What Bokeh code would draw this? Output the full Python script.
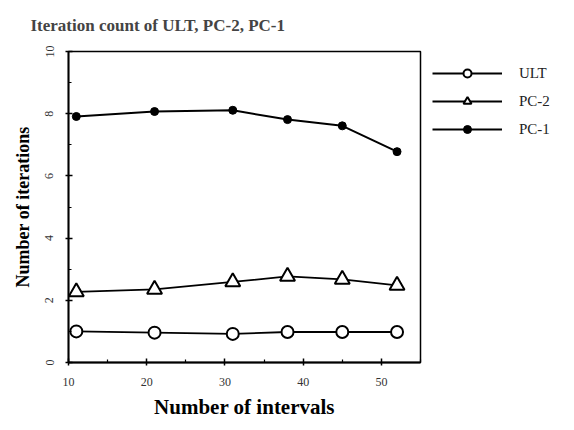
from bokeh.plotting import figure
from bokeh.models import Range1d, FixedTicker, Legend, LegendItem
from bokeh.embed import file_html
from bokeh.resources import INLINE

intervals = [11, 21, 31, 38, 45, 52]
ult = [1.0, 0.96, 0.92, 0.98, 0.98, 0.98]
pc2 = [2.27, 2.35, 2.59, 2.77, 2.67, 2.48]
pc1 = [7.91, 8.07, 8.11, 7.81, 7.61, 6.78]
x_ticks = [10, 20, 30, 40, 50]
y_ticks = [0, 2, 4, 6, 8, 10]

SERIF = "Liberation Serif"

p = figure(frame_width=352, frame_height=311, output_backend="svg", toolbar_location=None,
           x_range=Range1d(10, 55), y_range=Range1d(0, 10),
           min_border_left=68, min_border_right=10, min_border_top=50, min_border_bottom=50,
           title="Iteration count of ULT, PC-2, PC-1")

p.title.text_font = SERIF
p.title.text_font_style = "bold"
p.title.text_font_size = "17px"
p.title.align = "left"
p.title.offset = -38
p.title.vertical_align = "top"
p.title.standoff = 30

p.grid.visible = False
p.outline_line_color = "black"
p.outline_line_width = 1.5
p.background_fill_color = "white"
p.border_fill_color = "white"

for ax in (p.xaxis[0], p.yaxis[0]):
    ax.axis_line_width = 1.8
    ax.major_tick_in = 4
    ax.major_tick_out = 3
    ax.minor_tick_in = 3
    ax.minor_tick_out = 0
    ax.major_tick_line_width = 1.5
    ax.minor_tick_line_width = 1.2
    ax.major_label_text_font = SERIF
    ax.major_label_text_font_size = "12px"
    ax.major_label_text_color = "#333333"
    ax.major_label_standoff = 12
    ax.axis_label_text_font = SERIF
    ax.axis_label_text_font_style = "bold"
    ax.axis_label_text_color = "black"

p.xaxis.ticker = FixedTicker(ticks=x_ticks, minor_ticks=[15, 25, 35, 45, 55])
p.yaxis.ticker = FixedTicker(ticks=y_ticks, minor_ticks=[1, 3, 5, 7, 9])
p.yaxis.major_label_orientation = "vertical"
p.xaxis.axis_label = "Number of intervals"
p.yaxis.axis_label = "Number of iterations"
p.xaxis.axis_label_text_font_size = "21px"
p.yaxis.axis_label_text_font_size = "18px"
p.xaxis.axis_label_standoff = 6
p.yaxis.axis_label_standoff = 10

l1 = p.line(intervals, ult, line_color="black", line_width=1.8)
m1 = p.scatter(intervals, ult, marker="circle", size=12, line_color="black",
               line_width=2, fill_color="white")
l2 = p.line(intervals, pc2, line_color="black", line_width=1.8)
m2 = p.scatter(intervals, pc2, marker="triangle", size=15, line_color="black",
               line_width=2, fill_color="white")
l3 = p.line(intervals, pc1, line_color="black", line_width=2)
m3 = p.scatter(intervals, pc1, marker="circle", size=8, line_color="black",
               fill_color="black")

legend = Legend(items=[LegendItem(label="ULT", renderers=[l1, m1]),
                       LegendItem(label="PC-2", renderers=[l2, m2]),
                       LegendItem(label="PC-1", renderers=[l3, m3])],
                location="top_left")
legend.margin = 12
legend.padding = 8
legend.glyph_width = 70
legend.glyph_height = 20
legend.spacing = 8
legend.label_standoff = 17
legend.label_text_font = SERIF
legend.label_text_font_size = "15px"
legend.label_text_color = "#222222"
legend.border_line_color = None
legend.background_fill_color = None
p.add_layout(legend, "right")

open("out.html", "w").write(file_html(p, INLINE))
